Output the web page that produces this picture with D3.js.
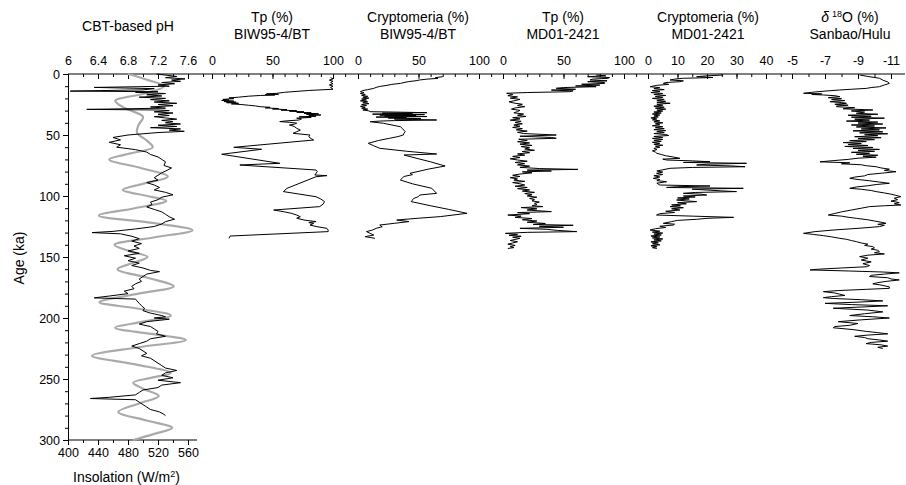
<!DOCTYPE html>
<html><head><meta charset="utf-8">
<script src="https://cdn.jsdelivr.net/npm/d3@7/dist/d3.min.js"></script>
<style>
body{margin:0;background:#fff}
text{font-family:"Liberation Sans",Arial,sans-serif;fill:#000}
</style>
</head><body>
<svg id="c" width="906" height="485"></svg>
<script>
// ---------- DATA (age ka, value) ----------
const phData = [[0,7.18],[2,7.45],[3,7.3],[4,7.56],[5,7.38],[6,7.5],[7,7.25],[8,7.42],[9,7.2],[10,7.35],[11,6.35],[12,7.15],[13,7.0],[14,6.03],[14.5,7.2],[15,6.9],[16,7.3],[17,7.05],[18,7.25],[19,6.95],[20,7.3],[21,7.1],[22,7.35],[23,7.15],[24,7.45],[25,7.2],[26,7.4],[27,7.1],[28,7.3],[29,6.25],[29.5,7.2],[30,7.35],[31,7.15],[32,7.4],[33,7.2],[34,7.35],[35,7.15],[36,7.3],[37,7.45],[38,7.25],[39,7.4],[40,7.3],[41,7.5],[42,7.2],[43,7.45],[44,7.1],[45,7.5],[46,7.35],[47,7.55],[48,7.2],[49,7.0],[50,6.8],[52,6.6],[54,6.7],[56,6.55],[58,6.7],[60,6.65],[62,6.9],[64,7.05],[66,7.1],[68,7.2],[70,7.25],[72,7.3],[75,7.28],[77,7.38],[79,7.32],[81,7.25],[83,7.2],[85,7.15],[87,7.2],[89,7.05],[91,7.15],[93,7.22],[95,7.15],[97,7.3],[99,7.4],[101,7.25],[103,7.2],[105,7.1],[107,7.12],[109,7.05],[111,7.15],[113,7.25],[115,7.3],[117,7.35],[119,7.42],[121,7.3],[123,7.25],[125,7.15],[127,6.9],[129,6.6],[130,6.32],[131,6.7],[133,6.85],[135,6.95],[137,6.85],[139,6.98],[141,6.88],[143,6.95],[145,6.8],[147,6.95],[149,6.75],[151,6.9],[153,6.8],[155,6.95],[157,6.85],[159,7.0],[161,7.1],[162,7.22],[164,7.05],[166,7.0],[168,6.95],[170,6.98],[172,6.9],[174,6.85],[176,6.88],[178,6.75],[180,6.8],[182,6.55],[183.5,6.35],[184.5,6.9],[186,6.92],[188,6.95],[190,6.98],[192,7.02],[194,7.0],[196,7.1],[198,7.25],[199,7.3],[200,7.15],[201,7.35],[203,7.05],[205,6.95],[207,7.1],[209,7.15],[211,7.2],[213,7.18],[215,7.3],[217,7.1],[219,7.05],[221,6.95],[223,6.85],[225,6.95],[227,7.0],[229,7.05],[231,6.98],[233,7.1],[235,7.15],[237,7.2],[239,7.25],[241,7.3],[243,7.45],[245,7.3],[247,7.25],[249,7.4],[251,7.2],[253,7.5],[255,7.25],[257,7.2],[259,7.0],[261,6.95],[263,6.9],[265,6.55],[266,6.3],[267,6.9],[269,6.95],[271,7.0],[273,7.05],[275,7.1],[277,7.22],[279,7.28],[280,7.3]];

const insolationData = [[0,480],[5,507],[10,528],[16,502],[22,463],[28,476],[35,500],[42,494],[48,492],[55,506],[60,513],[65,484],[70,455],[77,497],[84,533],[90,500],[95,473],[100,506],[104,531],[110,489],[116,441],[122,512],[128,566],[134,514],[140,462],[145,481],[150,506],[155,486],[160,466],[167,506],[174,541],[180,494],[187,442],[192,490],[198,537],[203,500],[208,463],[213,511],[218,557],[224,494],[231,432],[238,490],[245,537],[249,511],[253,487],[258,500],[264,521],[270,495],[277,467],[284,505],[290,539],[295,515],[300,487]];

const tpBIW = [[3,98],[4,100],[5,97],[6,100],[7,98],[8,100],[9,97],[10,100],[11,98],[12.5,100],[13.5,80],[15,60],[15.9,53],[16.3,45],[16.6,55],[17,44],[17.2,52],[17.6,40],[18.2,30],[19,22],[19.6,14],[20.2,18],[20.8,9],[21.3,14],[21.7,8],[22.2,18],[22.6,10],[23.1,20],[23.5,12],[24,22],[24.5,16],[25,24],[25.6,30],[26.2,36],[26.8,40],[27.3,48],[27.8,44],[28.3,55],[28.7,50],[29.2,62],[29.6,57],[30.1,70],[30.5,64],[31,76],[31.4,70],[31.8,82],[32.2,76],[32.6,88],[33,78],[33.6,90],[34.1,80],[34.6,86],[35.1,72],[35.6,82],[36.2,70],[36.8,74],[37.7,72],[38.4,62],[39,56],[39.6,64],[40.3,70],[41.1,68],[41.8,64],[43,68],[44.5,70],[46,73],[47.3,70],[48.6,67],[50,81],[51.5,80],[53,82],[54.1,84],[60.1,18],[61.7,41],[65.8,8],[73.2,56],[74.6,23],[78.7,86],[80,87],[82.8,85],[83.3,95],[84.2,86],[93.7,62],[96.4,59],[100.6,86],[102.5,90],[104.6,93],[106.5,92],[108.7,89],[111.5,51],[113,60],[114.3,66],[115.6,70],[117,73],[118.2,70],[119.7,76],[121,86],[121.8,80],[122.5,84],[123.8,81],[125,86],[126.5,95],[128,96],[129.2,96],[132.8,15],[134.7,14]];

const cryptoBIW = [[2.2,70],[3,64],[3.6,66],[4.2,57],[4.9,51],[5.5,48],[6.2,42],[7,38],[7.7,35],[8.5,28],[9.3,24],[10.2,18],[11,15],[11.8,13],[12.8,8],[13.6,4],[14.5,2],[15.3,5],[16,2],[16.8,6],[17.5,3],[18.3,8],[19,4],[19.8,9],[20.5,3],[21.3,7],[22,2],[22.8,8],[23.5,4],[24.3,9],[25,3],[25.8,7],[26.5,2],[27.3,6],[28,3],[28.8,8],[29.5,4],[30.2,9],[30.9,10],[31.3,35],[31.7,57],[32.1,20],[32.5,45],[32.9,12],[33.3,55],[33.7,18],[34.1,48],[34.5,22],[34.9,57],[35.3,15],[35.7,40],[36.1,25],[36.5,52],[36.9,30],[37.3,45],[37.7,65],[38.2,30],[38.6,18],[39.1,10],[40.4,21],[41.8,28],[43.2,35],[45,37],[47.3,39],[48.6,38],[50,37.5],[51.3,33],[52.7,26],[54.5,17],[56.8,8.5],[58.8,13],[60.9,18],[63.3,40],[65.6,65],[66.4,38],[69,48],[72,60],[75.4,72],[78,58],[81.4,43],[82.5,45],[84,38],[86.9,35],[90,45],[93.7,61],[95.8,63],[97.8,65],[99.2,51],[100.5,50],[102,46],[104.6,44],[108,60],[111,75],[114.2,90],[116.9,68],[118.2,50],[119.7,32],[121,42],[122.4,30],[123.8,18],[125.2,20],[126.5,15],[127.9,12],[129.2,7],[130.6,10],[132,13],[133.3,6],[134,10],[134.7,14]];

const tpMD = [[0.8,77],[1.5,85],[2.2,70],[2.9,88],[3.5,87],[4.2,74],[4.9,72],[5.6,86],[6.3,70],[7,84],[7.7,84],[8.4,65],[9.1,80],[9.8,60],[10.4,77],[11.1,50],[11.7,44],[12.5,60],[13.2,40],[13.8,58],[14.5,55],[15.2,20],[15.8,3],[16.8,8],[17.8,4],[18.8,12],[19.8,6],[20.8,14],[21.8,10],[22.8,5],[23.8,9],[24.8,16],[25.8,12],[26.8,18],[27.8,10],[28.8,7],[29.8,14],[30.8,12],[31.8,9],[32.8,17],[33.8,12],[34.8,19],[35.8,8],[36.8,14],[37.8,6],[38.8,15],[39.8,10],[40.8,16],[41.8,9],[42.8,14],[43.8,8],[44.8,16],[45.8,11],[46.8,20],[47.8,12],[48.8,17],[50,44],[51,14],[52,40],[52.7,44],[53.5,13],[54.5,20],[55.5,12],[56.5,22],[57.5,14],[58.5,24],[59.5,15],[60.5,22],[61.5,18],[62.5,26],[63.5,16],[64.5,22],[65.5,12],[66.5,18],[67.5,8],[68.5,14],[69.5,6],[70.5,12],[71.5,20],[72.5,10],[73.5,18],[74.5,12],[75.5,22],[76.5,14],[77.5,30],[78.2,62],[78.8,20],[79.5,40],[80.2,16],[81,24],[82,14],[83,8],[84,14],[85,6],[86,12],[87,9],[88,18],[89,8],[90,14],[91,18],[92,10],[93,20],[94,12],[95,22],[96,16],[97,26],[98,18],[99,24],[100,20],[101,28],[102,22],[103,26],[104,24],[105,30],[106,26],[107,28],[108,24],[108.7,33],[109.5,15],[110.5,28],[111.5,20],[112.8,40],[113.6,12],[114.5,22],[115.6,4],[116.5,15],[117.5,10],[118.5,24],[119.5,16],[120.5,28],[121.5,20],[122.5,35],[123.3,25],[124,58],[124.8,30],[125.6,50],[126.5,14],[127.3,36],[128.2,45],[129.2,61],[129.8,20],[130.6,2],[131.4,12],[132.2,5],[133,15],[133.8,8],[134.7,14],[135.6,10],[136.5,6],[137.5,12],[138.5,8],[139.5,4],[140.5,10],[141.5,6],[142.3,9],[143,4]];

const cryptoMD = [[0.8,25.5],[1.5,20],[2.2,16.5],[2.9,22],[3.5,12],[4.2,9],[4.9,7.5],[5.6,12],[6.3,10.8],[7,6],[7.7,5.2],[8.5,7],[9.3,3],[10.4,0.7],[11.2,4],[12,2],[12.8,5.5],[13.6,1.5],[14.4,4],[15.2,1],[16,5],[16.8,2],[17.6,6],[18.4,2.5],[19.2,5],[20,1.5],[20.8,5.5],[21.6,3],[22.4,6],[23.2,3],[24,7.5],[24.8,3],[25.6,5],[26.4,2],[27.2,5.5],[28,2.5],[28.8,6],[29.6,3],[30.4,5],[31.2,2],[32,4.5],[32.8,1.5],[33.6,4],[34.4,2],[35.2,3.5],[36,1],[36.8,3],[37.6,1.5],[38.4,4],[39.2,2],[40,5],[40.8,2.5],[41.6,4],[42.4,1.5],[43.2,5],[44,2.5],[44.8,5.5],[45.6,2],[46.4,6],[47.2,3],[48,5.5],[48.8,2],[49.6,6],[50.4,7],[51.2,2],[52,5],[52.8,1.5],[53.6,5],[54.4,2],[55.2,4.5],[56,1.5],[56.8,4],[57.6,2],[58.4,5],[59.2,2.5],[60,4],[61,2],[62,3],[63,1.5],[64,2.5],[65,3],[66,4.5],[67,6],[68,8.5],[69.1,10.8],[69.8,5],[70.5,6.3],[71.2,15],[71.9,21],[72.5,12],[73.2,33.4],[73.9,20],[74.6,16.5],[75.3,28],[76,32.9],[76.6,15],[77.3,7.5],[78.5,5],[79.5,3],[80.4,5],[81.4,2.9],[82.4,5],[83.4,2],[84.4,4],[85.5,1.8],[86.5,4],[87.4,3],[88.3,6.3],[89.5,3],[91,4],[91.8,21],[92.4,10],[93,6.3],[93.7,32.3],[94.4,15],[95.1,19.9],[95.8,25],[96.4,30],[97.1,16],[97.8,12],[98.5,18],[99.2,19.9],[100,12],[100.8,16],[101.6,10],[102.4,14],[103.3,9.7],[104,13],[104.6,16.5],[105.5,10],[106.4,13],[107.3,8],[108,11],[108.7,7.5],[109.6,12],[110.5,8],[111.5,10.8],[112.5,6],[113.5,9],[114.5,4],[115.6,2.9],[116.5,15],[117.5,29],[118.3,20],[119.1,16.5],[120,10],[121,8],[122.4,5.2],[123.1,9],[123.8,8.6],[124.8,4],[125.8,6],[126.8,2.5],[127.9,0.7],[128.8,4],[129.6,1.5],[130.4,5],[131.2,2],[132,4.5],[132.8,1],[133.6,4],[134.4,1.5],[135.2,5],[136,2],[136.8,4.5],[137.6,1],[138.4,3.5],[139.2,1.5],[140,4],[140.8,1],[141.6,3],[142.4,1.5],[143,3]];

const d18O = [[0.8,-9.1],[2,-9.6],[3.5,-10.3],[5,-10.5],[6.5,-10.8],[7.7,-10.9],[9,-10.6],[10.4,-10.3],[11.1,-9.8],[11.8,-9.5],[12.5,-8.6],[13.1,-7.9],[14,-7.0],[15,-6.2],[15.8,-5.7],[16.3,-6.8],[16.8,-6.2],[17.2,-6.9],[17.8,-7.6],[18.6,-7.9],[19.4,-7.2],[20.2,-8.0],[21,-7.4],[21.8,-8.2],[22.7,-7.3],[23.4,-8.0],[24,-8.3],[24.8,-7.6],[25.6,-8.4],[26.2,-7.7],[26.8,-7.7],[27.6,-8.8],[28.5,-8.1],[29.5,-9.9],[30.3,-8.6],[31.2,-9.4],[32.2,-8.9],[33,-10.2],[33.8,-8.4],[34.6,-9.8],[35.4,-8.6],[36.2,-10.6],[37,-8.8],[37.8,-9.7],[38.6,-8.3],[39.4,-10.2],[40.2,-9.0],[41,-10.5],[41.8,-8.6],[42.6,-10.0],[43.4,-8.9],[44.2,-10.7],[45,-9.2],[45.8,-10.3],[46.6,-8.7],[47.4,-10.5],[48.2,-9.1],[49,-10.8],[49.8,-9.4],[50.6,-10.2],[51.4,-8.8],[52.2,-10.4],[53,-9.0],[53.8,-10.0],[54.6,-8.5],[55.4,-9.5],[56.2,-8.1],[57,-9.2],[57.8,-8.4],[58.6,-9.6],[59.4,-8.2],[60.2,-9.9],[61,-8.7],[61.8,-10.3],[62.6,-9.0],[63.4,-10.0],[64.2,-8.6],[65,-9.7],[65.8,-8.9],[66.6,-10.2],[67.4,-9.3],[68.2,-10.1],[69,-9.0],[70,-8.4],[71,-7.5],[72,-6.7],[72.8,-8.5],[73.6,-8.0],[74.4,-9.2],[75.2,-9.5],[76,-10.1],[77,-10.4],[78,-10.9],[79,-10.6],[80.1,-11.3],[81.2,-10.5],[82.4,-9.6],[83.5,-9.4],[84.5,-8.8],[85.5,-8.5],[86.5,-9.0],[87.5,-9.7],[88.6,-10.3],[89.6,-10.9],[90.6,-10.1],[91.6,-9.6],[92.6,-8.9],[93.7,-8.5],[94.5,-9.2],[95.5,-9.8],[96.4,-10.1],[97.5,-10.6],[98.5,-11.0],[99.5,-11.3],[100.5,-11.6],[101.8,-11.2],[103,-11.4],[104.2,-11.0],[105.4,-11.5],[106.4,-11.2],[107.4,-11.6],[108,-10.6],[108.7,-9.7],[110,-9.2],[111.5,-8.6],[113,-8.0],[114.3,-7.6],[115.6,-7.2],[116.5,-8.0],[117.4,-8.4],[118.3,-8.9],[119.5,-9.6],[120.5,-10.0],[121.5,-10.4],[122.4,-10.7],[123.2,-10.2],[124,-10.6],[125.1,-10.3],[126.5,-9.0],[127.8,-7.6],[129.2,-6.4],[130.6,-5.7],[131.5,-6.3],[132.5,-6.9],[133.5,-7.4],[134.7,-7.9],[135.5,-8.3],[136.5,-8.6],[137.4,-8.9],[138.5,-9.2],[139.5,-9.6],[140.5,-9.4],[141.5,-9.9],[142.5,-10.0],[143.5,-9.8],[144.5,-10.2],[145.6,-10.3],[146.5,-10.0],[147.5,-10.6],[148.5,-9.6],[149.7,-9.1],[151,-9.6],[152.5,-9.2],[154,-9.8],[155.5,-9.3],[157,-9.7],[158,-9.5],[159,-8.0],[160,-6.6],[160.6,-6.1],[161.5,-8.5],[162.3,-10.5],[163,-11.5],[164,-10.6],[165,-9.8],[166,-9.7],[167,-10.8],[168,-11.0],[168.8,-11.5],[170,-10.7],[171,-10.2],[172,-9.9],[173,-10.4],[174.5,-10.9],[175.7,-10.9],[176.5,-9.5],[177.5,-7.8],[178.4,-6.9],[179.5,-7.6],[180.5,-7.9],[181.5,-8.2],[182.5,-7.4],[183.3,-6.9],[184,-7.5],[185,-9.2],[186,-10.5],[187,-9.0],[188,-7.0],[189,-8.6],[190,-10.8],[191,-9.2],[192,-7.5],[193.5,-9.6],[195,-10.5],[196.5,-9.4],[198,-8.5],[199,-9.9],[200,-10.9],[201.5,-9.2],[203,-7.8],[204.5,-9.0],[206,-8.5],[207,-7.6],[208,-7.5],[209.5,-8.7],[211,-9.5],[212,-10.2],[213,-10.8],[214,-9.6],[215,-8.8],[216,-9.4],[217,-9.6],[218,-10.3],[219,-10.8],[220,-9.8],[221,-9.5],[222,-10.4],[223,-10.8],[224,-10.2],[225,-10.5]];

// tick values
const ageMajor = [0,50,100,150,200,250,300];
const phMajor = [6,6.4,6.8,7.2,7.6];
const pctMajor = [0,50,100];
const cmMajor = [0,10,20,30,40];
const d18Major = [-5,-7,-9,-11];
const insMajor = [400,440,480,520,560];

// ---------- LAYOUT ----------
const svg = d3.select("#c");
const top0 = 74, bot0 = 440, left0 = 68;
const y = d3.scaleLinear().domain([0,300]).range([top0,bot0]);

const panels = [
  {data: phData, x: d3.scaleLinear().domain([6,7.6]).range([68,188]), major: phMajor, minor: d3.range(6,7.81,0.2), fmt: d => d3.format(".1~f")(d), title:["CBT-based pH"]},
  {data: tpBIW, x: d3.scaleLinear().domain([0,100]).range([212,333]), major: pctMajor, minor: d3.range(0,111,10), title:["Tp (%)","BIW95-4/BT"]},
  {data: cryptoBIW, x: d3.scaleLinear().domain([0,100]).range([358,479]), major: pctMajor, minor: d3.range(0,111,10), title:["Cryptomeria (%)","BIW95-4/BT"]},
  {data: tpMD, x: d3.scaleLinear().domain([0,100]).range([503,624]), major: pctMajor, minor: d3.range(0,111,10), title:["Tp (%)","MD01-2421"]},
  {data: cryptoMD, x: d3.scaleLinear().domain([0,40]).range([648,766]), major: cmMajor, minor: d3.range(0,46,5), title:["Cryptomeria (%)","MD01-2421"]},
  {data: d18O, x: d3.scaleLinear().domain([-5,-11]).range([792,891]), major: d18Major, minor: d3.range(-5,-11.5,-1), title:["δ18O","Sanbao/Hulu"]}
];

// top axis line
svg.append("line").attr("x1",left0).attr("x2",905).attr("y1",top0).attr("y2",top0).attr("stroke","#000").attr("stroke-width",1);

panels.forEach((p,i) => {
  const gMin = svg.append("g").attr("transform",`translate(0,${top0})`)
    .call(d3.axisTop(p.x).tickValues(p.minor).tickSize(-3).tickFormat(""));
  gMin.select(".domain").remove();
  const gMaj = svg.append("g").attr("transform",`translate(0,${top0})`)
    .call(d3.axisTop(p.x).tickValues(p.major).tickSize(-5).tickPadding(9).tickFormat(p.fmt || (d=>d)));
  gMaj.select(".domain").remove();
  gMaj.selectAll("text").style("font-family","Liberation Sans, Arial, sans-serif").style("font-size","12.5px").attr("fill","#000");
});

// titles
const cx = [128,272,418,563,708,850];
panels.forEach((p,i) => {
  if (p.title.length === 1) {
    svg.append("text").attr("x",cx[i]).attr("y",31).attr("text-anchor","middle").style("font-size","14px").text(p.title[0]);
  } else if (i === 5) {
    const t = svg.append("text").attr("x",cx[i]).attr("y",22).attr("text-anchor","middle").style("font-size","14px");
    t.append("tspan").style("font-style","italic").text("δ");
    t.append("tspan").style("font-size","9px").attr("dx","3").attr("dy","-5").text("18");
    t.append("tspan").attr("dy","5").text("O (%)");
    svg.append("text").attr("x",cx[i]).attr("y",39).attr("text-anchor","middle").style("font-size","14px").text(p.title[1]);
  } else {
    svg.append("text").attr("x",cx[i]).attr("y",22).attr("text-anchor","middle").style("font-size","14px").text(p.title[0]);
    svg.append("text").attr("x",cx[i]).attr("y",39).attr("text-anchor","middle").style("font-size","14px").text(p.title[1]);
  }
});

// left axis
const gyMin = svg.append("g").attr("transform",`translate(${left0},0)`)
  .call(d3.axisLeft(y).tickValues(d3.range(0,301,10)).tickSize(3).tickFormat(""));
gyMin.select(".domain").remove();
const gy = svg.append("g").attr("transform",`translate(${left0},0)`)
  .call(d3.axisLeft(y).tickValues(ageMajor).tickSize(5).tickSizeOuter(0).tickPadding(3));
gy.selectAll("text").style("font-size","12.5px").style("font-family","Liberation Sans, Arial, sans-serif");
gy.select(".domain").attr("stroke","#000");
svg.append("text").attr("transform","translate(24,258) rotate(-90)").attr("text-anchor","middle").style("font-size","14px").text("Age (ka)");

// bottom axis (insolation)
const xIns = d3.scaleLinear().domain([400,560]).range([68,188]);
const gbMin = svg.append("g").attr("transform",`translate(0,${bot0})`)
  .call(d3.axisBottom(xIns).tickValues(d3.range(400,571,20)).tickSize(3).tickFormat(""));
gbMin.select(".domain").remove();
svg.append("line").attr("x1",left0).attr("x2",xIns(572)).attr("y1",bot0).attr("y2",bot0).attr("stroke","#000");
const gb = svg.append("g").attr("transform",`translate(0,${bot0})`)
  .call(d3.axisBottom(xIns).tickValues(insMajor).tickSize(5).tickPadding(3));
gb.select(".domain").remove();
gb.selectAll("text").style("font-size","12.5px").style("font-family","Liberation Sans, Arial, sans-serif");
const it = svg.append("text").attr("x",73).attr("y",482).style("font-size","14px");
it.append("tspan").text("Insolation (W/m");
it.append("tspan").style("font-size","9px").attr("dy","-5").text("2");
it.append("tspan").attr("dy","5").text(")");
svg.selectAll(".tick line").attr("stroke","#000");

// series lines
const insLine = d3.line().curve(d3.curveCatmullRom.alpha(0.5)).x(d => xIns(d[1])).y(d => y(d[0]));
svg.append("path").datum(insolationData).attr("d",insLine).attr("fill","none").attr("stroke","#aaaaaa").attr("stroke-width",2.2);

panels.forEach(p => {
  const ln = d3.line().x(d => p.x(d[1])).y(d => y(d[0]));
  svg.append("path").datum(p.data).attr("d",ln).attr("fill","none").attr("stroke","#000").attr("stroke-width",1).attr("stroke-linejoin","round");
});
</script>
</body></html>
